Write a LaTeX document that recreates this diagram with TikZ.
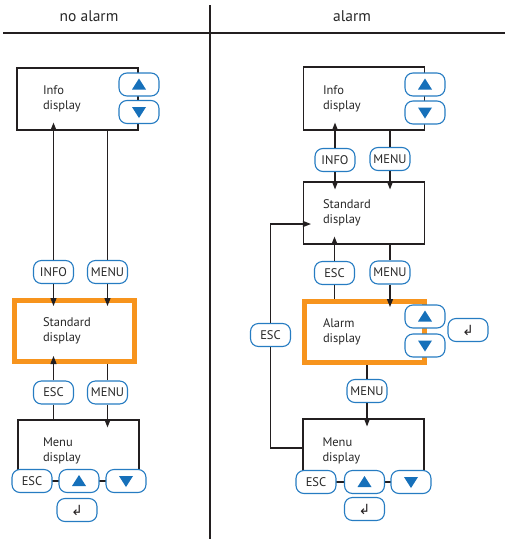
\documentclass[tikz,border=0pt]{standalone}
\usepackage{fontspec}
\setmainfont{PT Sans}
\newfontfamily\arrowfont{DejaVu Sans}
\usetikzlibrary{arrows.meta}
\definecolor{keyblue}{RGB}{38,124,194}
\definecolor{trifill}{RGB}{22,112,186}
\definecolor{alarmorange}{RGB}{247,148,29}
\definecolor{ink}{RGB}{35,31,32}
\definecolor{label}{RGB}{40,40,40}

\begin{document}
\begin{tikzpicture}[x=1pt,y=-1pt]
		\tikzstyle{every node}=[font=\fontsize{12.5}{15}\selectfont,text=label]
		\tikzstyle{head}=[font=\fontsize{15.5}{18}\selectfont]
		\tikzstyle{display}=[rectangle,draw=ink,line width=1.1pt,fill=white,minimum width=121pt,minimum height=62pt,inner xsep=0pt,align=left]
		\tikzstyle{alarmed}=[display,draw=alarmorange,line width=5pt,minimum width=120pt,minimum height=61pt]
		\tikzstyle{key}=[rectangle,rounded corners=8pt,draw=keyblue,line width=1.1pt,fill=white,minimum width=40pt,minimum height=23pt,inner xsep=1.5pt,inner ysep=0pt]
		\tikzstyle{upkey}=[key,path picture={\fill[trifill,sharp corners] ([xshift=-7pt,yshift=-5pt]path picture bounding box.center) -- ++(14pt,0pt) -- ++(-7pt,11pt) -- cycle;}]
		\tikzstyle{downkey}=[key,path picture={\fill[trifill,sharp corners] ([xshift=-7pt,yshift=5pt]path picture bounding box.center) -- ++(14pt,0pt) -- ++(-7pt,-11pt) -- cycle;}]
		\tikzstyle{enterkey}=[key,font=\arrowfont\fontsize{14}{14}\selectfont,text=ink]
		\tikzstyle{link}=[ink,line width=1.1pt]
		\tikzstyle{go}=[link,-{Triangle[length=8pt,width=6pt]},shorten >=-8pt]
		
		\useasboundingbox (0,0) rectangle (505,539);
		\node [head] (nohead) at (89,16) {no alarm};
		\node [head] (alarmhead) at (352,16) {alarm};
		\draw[link] (3,33) -- (505,33);
		\draw[link] (210,5) -- (210,539);
		
		\node [display,text width=69pt] (linfo) at (77.5,99) {Info\\display};
		\node [alarmed,text width=62pt] (lstd) at (74,331) {Standard\\display};
		\node [display,text width=71pt,minimum height=61pt] (lmenu) at (78.5,450.5) {Menu\\display};
		\node [upkey] (lup) at (139,84.5) {};
		\node [downkey] (ldown) at (139,112) {};
		\node [key] (linfokey) at (53.5,272) {INFO};
		\node [key] (lmenukey) at (107.5,272) {MENU};
		\node [key] (lesc) at (53.5,392.5) {ESC};
		\node [key] (lmenukey2) at (107.5,392.5) {MENU};
		\node [key] (lesc2) at (32,481) {ESC};
		\node [upkey] (lup2) at (79,481) {};
		\node [downkey] (ldown2) at (126,481) {};
		\node [enterkey] (lenter) at (77,510) {↲};
		
		\draw[go] (linfokey.north) -- (linfokey.north |- linfo.south);
		\draw[link] (lmenukey.north) -- (lmenukey.north |- linfo.south);
		\draw[go] (linfokey.south) -- (linfokey.south |- lstd.north);
		\draw[go] (lmenukey.south) -- (lmenukey.south |- lstd.north);
		\draw[go] (lesc.north) -- (lesc.north |- lstd.south);
		\draw[link] (lmenukey2.north) -- (lmenukey2.north |- lstd.south);
		\draw[link] (lesc.south) -- (lesc.south |- lmenu.north);
		\draw[go] (lmenukey2.south) -- (lmenukey2.south |- lmenu.north);
		
		\node [display,text width=82pt,minimum height=63pt] (rinfo) at (364,98.5) {Info\\display};
		\node [display,text width=82pt] (rstd) at (364,213) {Standard\\display};
		\node [alarmed,text width=82pt] (ralarm) at (364,332) {Alarm\\display};
		\node [display,text width=82pt,minimum height=63pt] (rmenu) at (363.5,450.5) {Menu\\display};
		\node [upkey] (rup) at (425,84.5) {};
		\node [downkey] (rdown) at (425,112.5) {};
		\node [key] (rinfokey) at (335,160) {INFO};
		\node [key] (rmenukey) at (390,159) {MENU};
		\node [key] (resc) at (334.5,273) {ESC};
		\node [key] (rmenukey2) at (390,272.5) {MENU};
		\node [upkey] (rup2) at (425,316.5) {};
		\node [downkey] (rdown2) at (425,345.5) {};
		\node [enterkey] (renter) at (468,330) {↲};
		\node [key] (rmenukey3) at (367,391) {MENU};
		\node [key] (resc3) at (270.5,335) {ESC};
		\node [key] (resc2) at (316,482) {ESC};
		\node [upkey] (rup3) at (364.5,482) {};
		\node [downkey] (rdown3) at (411,482) {};
		\node [enterkey] (renter2) at (364.5,509) {↲};
		
		\draw[go] (rinfokey.north) -- (rinfokey.north |- rinfo.south);
		\draw[link] (rmenukey.north) -- (rmenukey.north |- rinfo.south);
		\draw[go] (rinfokey.south) -- (rinfokey.south |- rstd.north);
		\draw[go] (rmenukey.south) -- (rmenukey.south |- rstd.north);
		\draw[go] (resc.north) -- (resc.north |- rstd.south);
		\draw[link] (rmenukey2.north) -- (rmenukey2.north |- rstd.south);
		\draw[link] (resc.south) -- (resc.south |- ralarm.north);
		\draw[go] (rmenukey2.south) -- (rmenukey2.south |- ralarm.north);
		\draw[link] (rmenukey3.north) -- (rmenukey3.north |- ralarm.south);
		\draw[go] (rmenukey3.south) -- (rmenukey3.south |- rmenu.north);
		\draw[link] ([yshift=2.5pt]rmenu.west) -| (resc3.south);
		\draw[go] (resc3.north) |- ([yshift=-11pt]rstd.west);
\end{tikzpicture}
\end{document}
